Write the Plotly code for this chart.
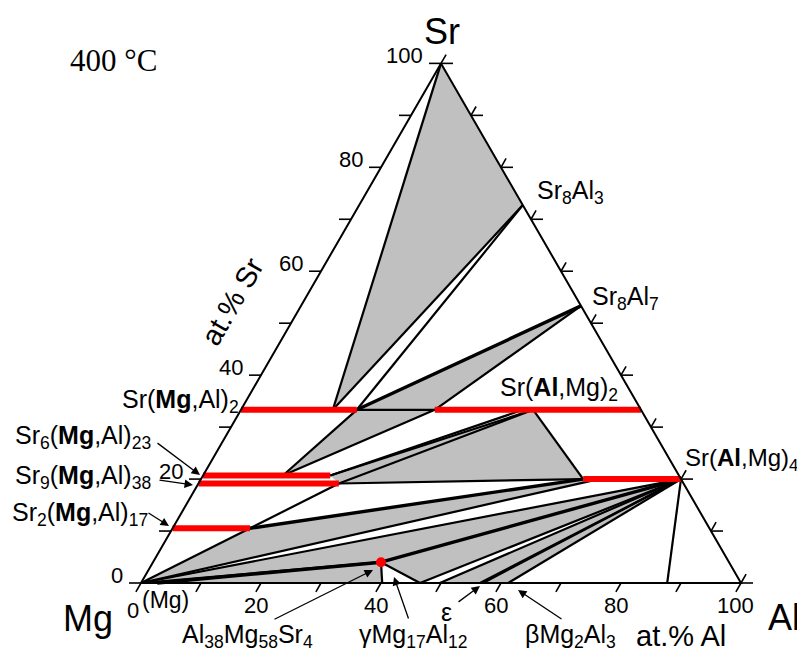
import math
import plotly.graph_objects as go

# ---------------- data: phase-point compositions (at.% Al, at.% Sr; Mg = balance) ----------------
point_names = ["Mg", "Al", "Sr", "Sr8Al3", "Sr8Al7",
               "SrMg2_0", "SrMg2_t", "SrMg2_e",
               "SrAl2_s", "SrAl2_a", "SrAl2_b", "SrAl2_e",
               "Sr6_0", "Sr6_m", "Sr6_e",
               "Sr9_0", "Sr9_e",
               "Sr2_0", "Sr2_e",
               "SrAl4_s", "SrAl4_b", "SrAl4_e",
               "tau", "MgC", "gam1", "gam2", "gam3", "eps1", "eps2", "bet1", "AlSS"]
point_al = [0, 100, 0, 27.27, 46.67,
            0, 15.3, 19.3,
            32.3, 47.0, 48.7, 66.67,
            0, 13.3, 21.2,
            0, 23.4,
            0, 12.9,
            63.7, 66.3, 80.0,
            38.0, 2.7, 40.2, 46.5, 49.8, 56.5, 57.0, 61.2, 87.7]
point_sr = [0, 0, 100, 72.73, 53.33,
            33.33, 33.33, 33.33,
            33.33, 33.33, 33.33, 33.33,
            20.69, 20.69, 20.69,
            19.15, 19.15,
            10.53, 10.53,
            20.0, 20.0, 20.0,
            4.0, 0, 0, 0, 0, 0, 0, 0, 0]

# three-phase fields (grey)
three_phase_fields = [
    ["Sr", "Sr8Al3", "SrMg2_t"],
    ["SrMg2_e", "Sr8Al7", "SrAl2_s"],
    ["SrMg2_e", "SrAl2_s", "Sr6_m"],
    ["Sr6_e", "Sr9_e", "SrAl2_b"],
    ["Sr9_e", "SrAl2_b", "SrAl4_s"],
    ["Mg", "Sr2_e", "SrAl4_s", "SrAl4_b"],
    ["Mg", "tau", "SrAl4_e"],
    ["MgC", "tau", "gam1"],
    ["tau", "gam2", "SrAl4_e"],
    ["gam3", "eps1", "SrAl4_e"],
    ["eps2", "bet1", "SrAl4_e"],
]
# phase boundaries / tie lines
thin_lines = [
    ("Sr", "SrMg2_t"), ("Sr8Al3", "SrMg2_t"), ("Sr8Al3", "SrMg2_e"),
    ("Sr8Al7", "SrAl2_s"), ("SrMg2_e", "SrAl2_s"),
    ("SrMg2_e", "Sr6_m"), ("SrAl2_s", "Sr6_m"),
    ("Sr6_e", "SrAl2_a"), ("Sr6_e", "SrAl2_b"), ("Sr9_e", "SrAl2_b"),
    ("SrAl2_b", "SrAl4_s"), ("Sr9_e", "SrAl4_s"),
    ("Sr2_e", "Sr9_e"), ("Mg", "Sr2_e"),
    ("Mg", "SrAl4_b"), ("Mg", "SrAl4_e"), ("Mg", "tau"),
    ("tau", "gam1"), ("tau", "gam2"),
    ("gam2", "SrAl4_e"), ("gam3", "SrAl4_e"), ("eps1", "SrAl4_e"),
    ("eps2", "SrAl4_e"), ("bet1", "SrAl4_e"), ("AlSS", "SrAl4_e"),
]
thick_lines = [("SrMg2_e", "Sr8Al7"), ("Sr2_e", "SrAl4_s"),
               ("MgC", "tau"), ("tau", "SrAl4_e")]
# homogeneity ranges (red)
solubility_ranges = [("SrMg2_0", "SrMg2_e"), ("SrAl2_s", "SrAl2_e"),
                     ("Sr6_0", "Sr6_e"), ("Sr9_0", "Sr9_e"),
                     ("Sr2_0", "Sr2_e"), ("SrAl4_s", "SrAl4_e")]
ternary_phase = ["tau"]

# axis ticks
sr_ticks = [0, 10, 20, 30, 40, 50, 60, 70, 80, 90, 100]
sr_tick_labels = ["0", "", "20", "", "40", "", "60", "", "80", "", "100"]
al_ticks = [0, 10, 20, 30, 40, 50, 60, 70, 80, 90, 100]
al_tick_labels = ["0", "", "20", "", "40", "", "60", "", "80", "", "100"]

# ---------------- helpers ----------------
S3 = math.sqrt(3) / 2
P = {n: (a, s) for n, a, s in zip(point_names, point_al, point_sr)}
PAGE_OFF = 8  # default body margin of the html page


def xy(al, sr):
    return al + sr / 2.0, sr * S3


def pxy(name):
    return xy(*P[name])


def pix(px, py):
    # layout helper: page pixel -> data coordinate (6 px per at.%)
    return (px - 141) / 6.0, (583 - py) / 6.0


def seg_trace(pairs, width, color):
    xs, ys = [], []
    for a, b in pairs:
        x0, y0 = pxy(a)
        x1, y1 = pxy(b)
        xs += [x0, x1, None]
        ys += [y0, y1, None]
    return go.Scatter(x=xs, y=ys, mode="lines", hoverinfo="skip",
                      line=dict(color=color, width=width), showlegend=False)


fig = go.Figure()

for poly in three_phase_fields:
    xs = [pxy(n)[0] for n in poly] + [pxy(poly[0])[0]]
    ys = [pxy(n)[1] for n in poly] + [pxy(poly[0])[1]]
    fig.add_trace(go.Scatter(x=xs, y=ys, mode="lines", fill="toself",
                             fillcolor="#c0c0c0", line=dict(width=0),
                             hoverinfo="skip", showlegend=False))

fig.add_trace(seg_trace(thin_lines, 2.2, "black"))
fig.add_trace(seg_trace(thick_lines, 3.4, "black"))
fig.add_trace(seg_trace(solubility_ranges, 6, "#ff0000"))
fig.add_trace(go.Scatter(x=[pxy(n)[0] for n in ternary_phase],
                         y=[pxy(n)[1] for n in ternary_phase],
                         mode="markers", marker=dict(color="#ff0000", size=10),
                         hoverinfo="skip", showlegend=False))

# triangle frame
fx = [xy(0, 0)[0], xy(100, 0)[0], xy(0, 100)[0], xy(0, 0)[0]]
fy = [xy(0, 0)[1], xy(100, 0)[1], xy(0, 100)[1], xy(0, 0)[1]]
fig.add_trace(go.Scatter(x=fx, y=fy, mode="lines", line=dict(color="black", width=2),
                         hoverinfo="skip", showlegend=False))

# tick marks
TL = 2.0   # horizontal tick length (at.% units)
TS = 1.7   # slanted tick length
cx, sy = 0.5 * TS, S3 * TS
tx, ty = [], []
for s in sr_ticks:
    x0, y0 = xy(0, s)
    tx += [x0, x0 - TL, None]; ty += [y0, y0, None]
    x1, y1 = xy(100 - s, s)
    tx += [x1, x1 + TL, None]; ty += [y1, y1, None]
    tx += [x1, x1 + cx, None]; ty += [y1, y1 + sy, None]
for a in al_ticks:
    x0, y0 = xy(a, 0)
    tx += [x0, x0 - cx, None]; ty += [y0, y0 - sy, None]
fig.add_trace(go.Scatter(x=tx, y=ty, mode="lines", line=dict(color="black", width=1.6),
                         hoverinfo="skip", showlegend=False))

ann = []
FONT = "Arial, Liberation Sans, sans-serif"


def text(px, py, t, size, xanchor="center", yanchor="middle", angle=0, family=FONT):
    x, y = pix(px, py)
    ann.append(dict(x=x, y=y, xref="x", yref="y", text=t, showarrow=False,
                    xanchor=xanchor, yanchor=yanchor, textangle=angle,
                    font=dict(family=family, size=size, color="black")))


# tick labels
for s, lab in zip(sr_ticks, sr_tick_labels):
    if lab:
        x0, y0 = xy(0, s)
        ann.append(dict(x=x0 - TL - 0.7, y=y0 + 1.25, xref="x", yref="y", text=lab,
                        showarrow=False, xanchor="right", yanchor="middle",
                        font=dict(family=FONT, size=22, color="black")))
for a, lab in zip(al_ticks, al_tick_labels):
    if lab and a > 0:
        x0, y0 = xy(a, 0)
        ann.append(dict(x=x0 - cx, y=y0 - sy - 2.2, xref="x", yref="y", text=lab,
                        showarrow=False, xanchor="center", yanchor="middle",
                        font=dict(family=FONT, size=22, color="black")))
text(133, 610, "0", 22)
text(140, 600, "(Mg)", 23, xanchor="left")

# corner / axis labels
text(442, 31, "Sr", 36)
text(88, 618, "Mg", 36)
text(784, 617, "Al", 36)
text(681, 636, "at.% Al", 29)
text(232, 302, "at.% Sr", 29, angle=-60)
text(113, 60, "400 °C", 31, family="Liberation Serif, Times New Roman, serif")

# phase labels
text(535, 192, "Sr<sub>8</sub>Al<sub>3</sub>", 25, xanchor="left")
text(590, 298, "Sr<sub>8</sub>Al<sub>7</sub>", 25, xanchor="left")
text(498, 389, "Sr(<b>Al</b>,Mg)<sub>2</sub>", 25, xanchor="left")
text(683, 459, "Sr(<b>Al</b>,Mg)<sub>4</sub>", 24, xanchor="left")
text(241, 401, "Sr(<b>Mg</b>,Al)<sub>2</sub>", 25, xanchor="right")
text(13, 437, "Sr<sub>6</sub>(<b>Mg</b>,Al)<sub>23</sub>", 25, xanchor="left")
text(13, 477, "Sr<sub>9</sub>(<b>Mg</b>,Al)<sub>38</sub>", 25, xanchor="left")
text(10, 514, "Sr<sub>2</sub>(<b>Mg</b>,Al)<sub>17</sub>", 25, xanchor="left")
text(180, 636, "Al<sub>38</sub>Mg<sub>58</sub>Sr<sub>4</sub>", 25, xanchor="left")
text(357, 636, "γMg<sub>17</sub>Al<sub>12</sub>", 25, xanchor="left")
text(446, 612, "ε", 25)
text(523, 636, "βMg<sub>2</sub>Al<sub>3</sub>", 25, xanchor="left")


def arrow(tail, head):
    hx, hy = pix(*head)
    tx_, ty_ = pix(*tail)
    ann.append(dict(x=hx, y=hy, ax=tx_, ay=ty_, xref="x", yref="y", axref="x", ayref="y",
                    text="", showarrow=True, arrowhead=2, arrowsize=1.3, arrowwidth=1.3,
                    arrowcolor="black"))


arrow((156, 442), (200, 475))
arrow((158, 480), (193, 485))
arrow((147, 512), (169, 526))
arrow((273, 620), (373, 570))
arrow((409, 620), (394, 577))
arrow((457, 603), (480, 586))
arrow((563, 620), (518, 590))

W, H = 805, 652
fig.update_layout(
    width=W - PAGE_OFF, height=H - PAGE_OFF, margin=dict(l=0, r=0, t=0, b=0),
    paper_bgcolor="white", plot_bgcolor="white",
    xaxis=dict(range=[(PAGE_OFF - 141) / 6.0, (W - 141) / 6.0], visible=False, fixedrange=True),
    yaxis=dict(range=[(583 - H) / 6.0, (583 - PAGE_OFF) / 6.0], visible=False, fixedrange=True),
    annotations=ann, showlegend=False,
)
fig.write_html("out.html")
